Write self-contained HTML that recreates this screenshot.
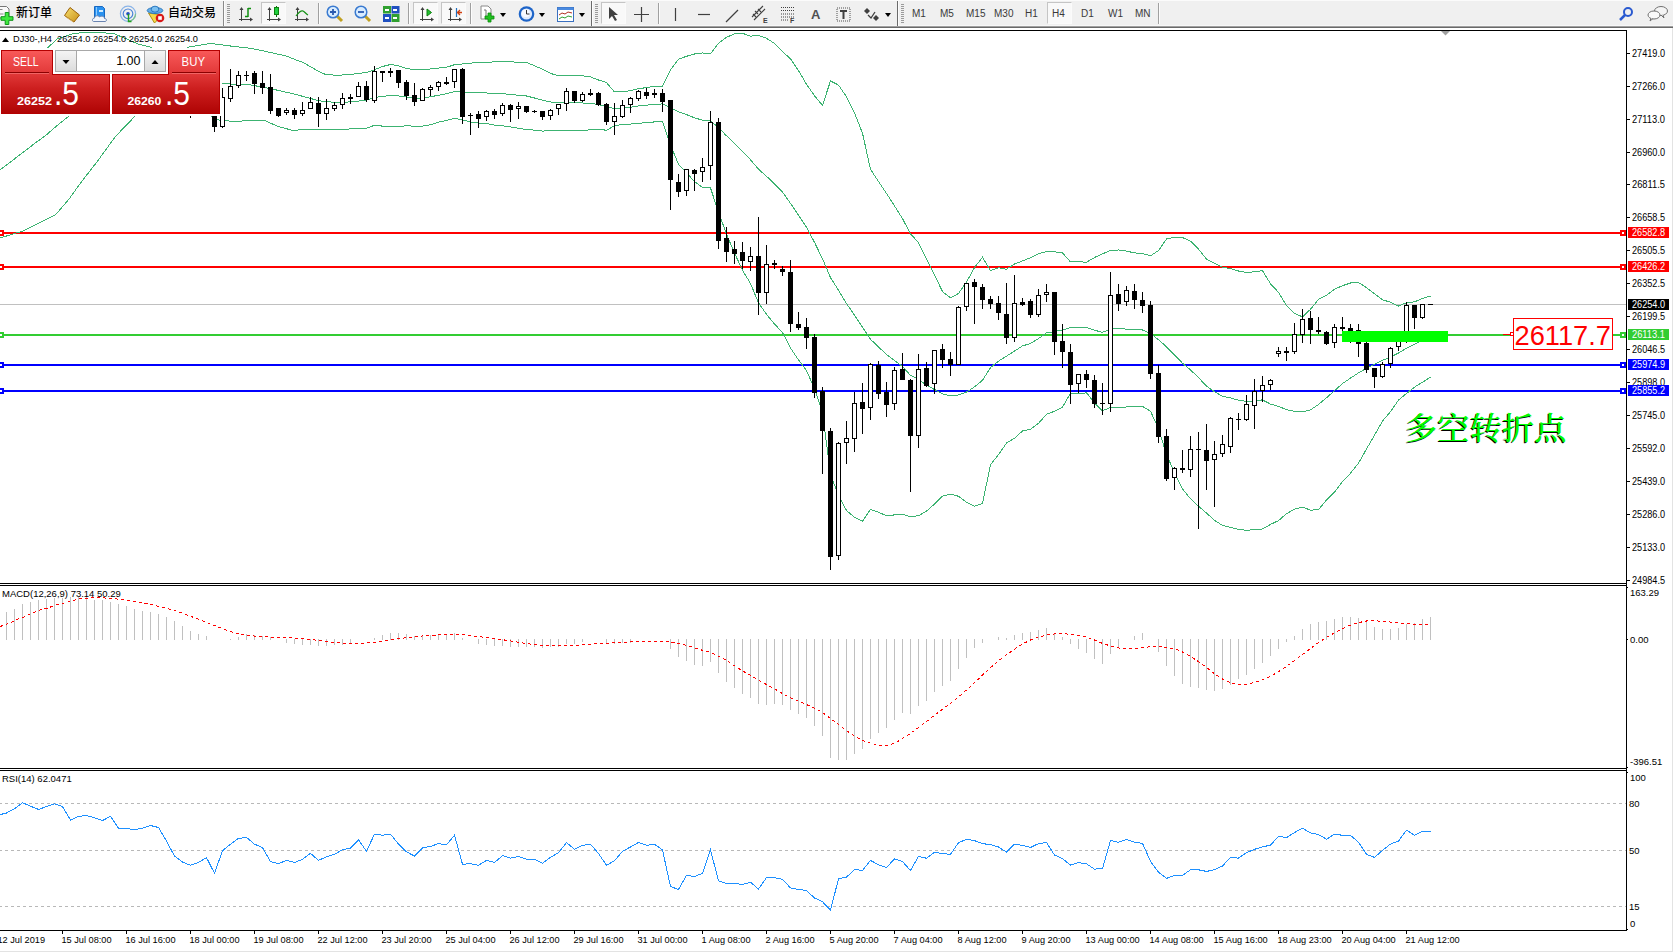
<!DOCTYPE html>
<html><head><meta charset="utf-8"><title>MT4</title>
<style>
*{box-sizing:border-box}
html,body{margin:0;padding:0}
body{width:1673px;height:952px;overflow:hidden;background:#fff;position:relative;font-family:"Liberation Sans","Noto Sans CJK SC",sans-serif}
#ch{position:absolute;left:0;top:0}
#tb{position:absolute;left:0;top:0;width:1673px;height:28px;background:#f0f0f0;border-bottom:0}
#tb .b1{position:absolute;left:0;top:25px;width:1673px;height:1px;background:#f7f7f7}
#tb .b2{position:absolute;left:0;top:26px;width:1673px;height:1px;background:#a0a0a0}
#tb .b3{position:absolute;left:0;top:27px;width:1673px;height:1px;background:#696969}
#tb .sep{position:absolute;top:1px;width:1px;height:25px;background:#a0a0a0;box-shadow:1px 0 0 #fcfcfc}
#tb .b0{position:absolute;left:0;top:0;width:1673px;height:1px;background:#fbfbfb}
#tb .grip{position:absolute;top:4px;width:3px;height:19px;background:repeating-linear-gradient(#9a9a9a 0 1px,transparent 1px 2px)}
#tb .prs{position:absolute;top:2px;width:25px;height:22px;border:1px solid #c5c5c5;border-right-color:#fbfbfb;border-bottom-color:#fbfbfb;background:#f9f9f9}
#tb svg{position:absolute}
#tb .t{position:absolute;font-size:12px;font-weight:500;color:#000;top:5px;line-height:14px;font-family:"Liberation Sans","Noto Sans CJK SC",sans-serif}
#tb .tf{position:absolute;font-size:10px;color:#3a3a3a;top:8px;line-height:12px}
#tb .dd{position:absolute;top:13px;width:0;height:0;border-left:3.5px solid transparent;border-right:3.5px solid transparent;border-top:4px solid #000}
#tp{position:absolute;left:0;top:0}
#tp div{position:absolute}
.rd{background:linear-gradient(#f75656,#e33b3b 35%,#cf2020 60%,#b20404);}

</style></head><body>
<svg id="ch" width="1673" height="952" viewBox="0 0 1673 952">
<defs><clipPath id="cm"><rect x="0" y="31" width="1626" height="552"/></clipPath><clipPath id="cmacd"><rect x="0" y="586" width="1626" height="182"/></clipPath><clipPath id="crsi"><rect x="0" y="771" width="1626" height="159"/></clipPath></defs>
<g shape-rendering="crispEdges" fill="#000">
<rect x="0" y="30" width="1627" height="1"/>
<rect x="0" y="583" width="1627" height="1"/>
<rect x="0" y="585" width="1627" height="1"/>
<rect x="0" y="768" width="1627" height="1"/>
<rect x="0" y="770" width="1627" height="1"/>
<rect x="0" y="930" width="1627" height="1"/>
<rect x="1626" y="30" width="1" height="901"/>
</g>
<g clip-path="url(#cm)">
<g shape-rendering="crispEdges">
<rect x="0" y="304" width="1626" height="1" fill="#c0c0c0"/>
<rect x="0" y="232" width="1627" height="2" fill="#ff0000"/>
<rect x="0" y="266" width="1627" height="2" fill="#ff0000"/>
<rect x="0" y="334" width="1627" height="2" fill="#32cd32"/>
<rect x="0" y="364" width="1627" height="2" fill="#0000ff"/>
<rect x="0" y="390" width="1627" height="2" fill="#0000ff"/>
</g>
<polyline points="30.0,62.0 44.0,51.0 47.8,47.6 57.4,38.8 71.7,34.0 83.7,32.3 100.4,32.3 114.8,34.0 129.1,40.0 138.7,44.3 150.6,47.1 155.0,49.5 160.0,52.0 180.0,52.0 188.9,47.1 210.4,43.5 217.6,44.3 229.5,45.9 251.0,48.3 267.8,51.9 286.9,56.2 296.2,60.0 303.6,62.7 318.0,71.0 324.9,74.2 337.2,75.4 351.5,74.3 366.5,72.5 374.5,69.7 382.5,66.5 390.5,64.5 398.5,65.7 406.5,68.4 414.5,69.8 422.5,70.0 430.5,69.0 438.5,68.1 446.5,67.3 454.5,64.7 462.5,64.0 470.5,63.1 478.5,62.6 486.5,62.4 494.5,61.8 502.5,61.8 510.5,61.7 518.5,62.5 526.5,62.4 534.5,65.8 542.5,69.2 550.5,73.4 558.5,75.8 566.5,75.2 574.5,75.1 582.5,75.8 590.5,76.9 598.5,80.0 606.5,82.6 614.5,92.0 622.5,91.8 630.5,90.6 638.5,88.7 646.5,87.6 654.5,86.3 662.5,86.2 670.5,69.8 678.5,59.1 686.5,56.3 694.5,54.0 702.5,53.0 710.5,53.8 718.5,43.2 726.5,37.3 734.5,33.8 742.5,33.3 750.5,36.1 758.5,35.5 766.5,38.3 774.5,43.5 782.5,51.7 790.5,58.8 798.5,70.6 806.5,84.2 814.5,95.8 822.5,105.3 830.5,80.9 838.5,85.1 846.5,96.8 854.5,113.0 862.5,133.2 870.5,169.3 878.5,181.6 886.5,193.4 894.5,205.9 902.5,218.6 910.5,233.8 918.5,242.6 926.5,259.4 934.5,274.9 942.5,291.6 950.5,297.8 958.5,293.5 966.5,282.1 974.5,267.6 982.5,257.2 990.5,270.5 998.5,267.7 1006.5,269.2 1014.5,264.0 1022.5,260.9 1030.5,257.8 1038.5,253.7 1046.5,251.5 1054.5,251.8 1062.5,252.9 1070.5,262.0 1078.5,261.6 1086.5,262.3 1094.5,257.5 1102.5,253.9 1110.5,250.3 1118.5,250.0 1126.5,251.1 1134.5,252.9 1142.5,253.6 1150.5,255.8 1158.5,250.6 1166.5,239.0 1174.5,237.1 1182.5,237.6 1190.5,241.1 1198.5,249.2 1206.5,259.1 1214.5,263.1 1222.5,267.1 1230.5,268.6 1238.5,271.0 1246.5,272.5 1254.5,271.8 1262.5,270.7 1270.5,283.8 1278.5,292.3 1286.5,305.5 1294.5,313.5 1302.5,316.8 1310.5,309.3 1318.5,299.4 1326.5,295.4 1334.5,289.2 1342.5,285.7 1350.5,283.0 1358.5,282.5 1366.5,287.6 1374.5,293.7 1382.5,299.8 1390.5,302.2 1398.5,306.0 1406.5,302.7 1414.5,301.8 1422.5,298.5 1430.5,296.0" fill="none" stroke="#3cb371" stroke-width="1" shape-rendering="crispEdges" />
<polyline points="0.0,169.8 23.0,152.5 35.0,143.2 46.0,135.2 58.0,124.8 69.0,116.0 100.0,100.0 150.0,88.0 200.0,83.0 222.0,83.6 250.0,84.8 270.0,88.5 294.0,94.0 317.0,100.2 326.0,101.9 345.0,102.3 366.5,100.3 374.5,97.5 382.5,96.3 390.5,95.7 398.5,96.0 406.5,97.1 414.5,98.0 422.5,98.0 430.5,96.8 438.5,95.2 446.5,93.8 454.5,91.5 462.5,91.9 470.5,92.5 478.5,92.8 486.5,93.0 494.5,93.5 502.5,93.8 510.5,94.3 518.5,95.3 526.5,96.0 534.5,98.0 542.5,100.2 550.5,102.0 558.5,103.0 566.5,102.8 574.5,102.8 582.5,103.0 590.5,103.4 598.5,104.5 606.5,106.5 614.5,108.8 622.5,108.2 630.5,107.3 638.5,106.0 646.5,105.2 654.5,104.1 662.5,104.0 670.5,107.5 678.5,111.8 686.5,114.6 694.5,117.8 702.5,120.2 710.5,120.8 718.5,127.7 726.5,135.8 734.5,143.4 742.5,151.8 750.5,159.8 758.5,169.2 766.5,176.3 774.5,183.8 782.5,192.1 790.5,203.4 798.5,215.2 806.5,227.3 814.5,242.3 822.5,258.8 830.5,277.6 838.5,290.2 846.5,303.6 854.5,315.1 862.5,327.2 870.5,339.3 878.5,346.9 886.5,354.6 894.5,360.4 902.5,366.4 910.5,375.4 918.5,379.1 926.5,385.2 934.5,389.5 942.5,393.9 950.5,395.9 958.5,394.9 966.5,392.1 974.5,386.9 982.5,380.3 990.5,367.6 998.5,361.1 1006.5,356.1 1014.5,351.1 1022.5,345.9 1030.5,343.5 1038.5,338.6 1046.5,332.9 1054.5,331.5 1062.5,330.1 1070.5,327.6 1078.5,327.8 1086.5,327.5 1094.5,330.2 1102.5,332.4 1110.5,328.9 1118.5,328.7 1126.5,329.1 1134.5,329.7 1142.5,330.0 1150.5,333.5 1158.5,339.7 1166.5,346.8 1174.5,355.0 1182.5,363.2 1190.5,369.9 1198.5,377.6 1206.5,386.1 1214.5,391.7 1222.5,396.3 1230.5,397.9 1238.5,400.2 1246.5,401.4 1254.5,400.8 1262.5,399.9 1270.5,404.1 1278.5,406.4 1286.5,409.6 1294.5,411.3 1302.5,411.9 1310.5,409.8 1318.5,404.5 1326.5,397.8 1334.5,390.7 1342.5,383.6 1350.5,378.1 1358.5,372.9 1366.5,368.3 1374.5,364.4 1382.5,360.4 1390.5,356.9 1398.5,353.1 1406.5,348.1 1414.5,344.4 1422.5,340.4 1430.5,336.6" fill="none" stroke="#3cb371" stroke-width="1" shape-rendering="crispEdges" />
<polyline points="0.0,238.0 23.0,231.0 55.5,214.9 69.3,198.7 80.9,182.5 97.1,161.7 115.6,136.3 135.2,116.0 160.0,100.0 190.0,100.0 206.0,108.0 211.0,116.0 217.0,119.6 222.2,120.8 241.5,121.4 242.4,120.3 264.0,120.3 278.2,126.5 292.6,130.4 306.0,129.5 335.0,129.2 345.2,129.2 366.5,128.1 374.5,125.3 382.5,126.1 390.5,126.8 398.5,126.4 406.5,125.8 414.5,126.2 422.5,126.1 430.5,124.7 438.5,122.2 446.5,120.4 454.5,118.4 462.5,119.8 470.5,122.0 478.5,123.0 486.5,123.5 494.5,125.1 502.5,125.8 510.5,127.0 518.5,128.2 526.5,129.5 534.5,130.1 542.5,131.1 550.5,130.6 558.5,130.3 566.5,130.4 574.5,130.4 582.5,130.2 590.5,129.9 598.5,129.1 606.5,130.3 614.5,125.6 622.5,124.6 630.5,124.1 638.5,123.2 646.5,122.8 654.5,121.9 662.5,121.7 670.5,145.1 678.5,164.4 686.5,172.9 694.5,181.5 702.5,187.5 710.5,187.9 718.5,212.2 726.5,234.2 734.5,253.0 742.5,270.2 750.5,283.5 758.5,302.9 766.5,314.3 774.5,324.0 782.5,332.5 790.5,348.0 798.5,359.9 806.5,370.5 814.5,388.9 822.5,412.3 830.5,474.4 838.5,495.3 846.5,510.5 854.5,517.2 862.5,521.2 870.5,509.3 878.5,512.3 886.5,515.8 894.5,514.9 902.5,514.1 910.5,516.9 918.5,515.7 926.5,511.1 934.5,504.1 942.5,496.2 950.5,494.1 958.5,496.3 966.5,502.2 974.5,506.1 982.5,503.4 990.5,464.8 998.5,454.6 1006.5,443.1 1014.5,438.3 1022.5,431.0 1030.5,429.2 1038.5,423.4 1046.5,414.3 1054.5,411.2 1062.5,407.3 1070.5,393.1 1078.5,394.0 1086.5,392.7 1094.5,402.9 1102.5,410.8 1110.5,407.4 1118.5,407.4 1126.5,407.0 1134.5,406.5 1142.5,406.4 1150.5,411.2 1158.5,428.8 1166.5,454.5 1174.5,472.9 1182.5,488.9 1190.5,498.8 1198.5,506.1 1206.5,513.1 1214.5,520.3 1222.5,525.5 1230.5,527.3 1238.5,529.4 1246.5,530.3 1254.5,529.7 1262.5,529.0 1270.5,524.4 1278.5,520.6 1286.5,513.7 1294.5,509.1 1302.5,507.1 1310.5,510.2 1318.5,509.6 1326.5,500.1 1334.5,492.2 1342.5,481.6 1350.5,473.2 1358.5,463.2 1366.5,449.0 1374.5,435.2 1382.5,421.1 1390.5,411.7 1398.5,400.1 1406.5,393.5 1414.5,387.1 1422.5,382.3 1430.5,377.2" fill="none" stroke="#3cb371" stroke-width="1" shape-rendering="crispEdges" />
<g shape-rendering="crispEdges">
<rect x="190" y="100" width="1" height="18" fill="#000"/>
<rect x="188" y="100" width="5" height="12" fill="#000"/>
<rect x="214" y="100" width="1" height="32" fill="#000"/>
<rect x="212" y="105" width="5" height="22" fill="#000"/>
<rect x="222" y="88" width="1" height="40" fill="#000"/>
<rect x="220" y="97" width="5" height="30" fill="#000"/>
<rect x="221" y="98" width="3" height="28" fill="#fff"/>
<rect x="230" y="69" width="1" height="33" fill="#000"/>
<rect x="228" y="86" width="5" height="13" fill="#000"/>
<rect x="229" y="87" width="3" height="11" fill="#fff"/>
<rect x="238" y="71" width="1" height="17" fill="#000"/>
<rect x="236" y="75" width="5" height="11" fill="#000"/>
<rect x="237" y="76" width="3" height="9" fill="#fff"/>
<rect x="246" y="71" width="1" height="10" fill="#000"/>
<rect x="244" y="75" width="5" height="1" fill="#000"/>
<rect x="254" y="71" width="1" height="23" fill="#000"/>
<rect x="252" y="73" width="5" height="11" fill="#000"/>
<rect x="262" y="71" width="1" height="23" fill="#000"/>
<rect x="260" y="83" width="5" height="5" fill="#000"/>
<rect x="270" y="74" width="1" height="40" fill="#000"/>
<rect x="268" y="87" width="5" height="24" fill="#000"/>
<rect x="278" y="108" width="1" height="9" fill="#000"/>
<rect x="276" y="108" width="5" height="8" fill="#000"/>
<rect x="286" y="108" width="1" height="7" fill="#000"/>
<rect x="284" y="110" width="5" height="3" fill="#000"/>
<rect x="285" y="111" width="3" height="1" fill="#fff"/>
<rect x="294" y="108" width="1" height="11" fill="#000"/>
<rect x="292" y="110" width="5" height="5" fill="#000"/>
<rect x="302" y="102" width="1" height="14" fill="#000"/>
<rect x="300" y="110" width="5" height="4" fill="#000"/>
<rect x="301" y="111" width="3" height="2" fill="#fff"/>
<rect x="310" y="97" width="1" height="12" fill="#000"/>
<rect x="308" y="102" width="5" height="7" fill="#000"/>
<rect x="309" y="103" width="3" height="5" fill="#fff"/>
<rect x="318" y="97" width="1" height="30" fill="#000"/>
<rect x="316" y="103" width="5" height="11" fill="#000"/>
<rect x="326" y="99" width="1" height="21" fill="#000"/>
<rect x="324" y="108" width="5" height="6" fill="#000"/>
<rect x="325" y="109" width="3" height="4" fill="#fff"/>
<rect x="334" y="102" width="1" height="9" fill="#000"/>
<rect x="332" y="105" width="5" height="4" fill="#000"/>
<rect x="333" y="106" width="3" height="2" fill="#fff"/>
<rect x="342" y="93" width="1" height="16" fill="#000"/>
<rect x="340" y="98" width="5" height="7" fill="#000"/>
<rect x="341" y="99" width="3" height="5" fill="#fff"/>
<rect x="350" y="94" width="1" height="10" fill="#000"/>
<rect x="348" y="97" width="5" height="2" fill="#000"/>
<rect x="358" y="82" width="1" height="15" fill="#000"/>
<rect x="356" y="86" width="5" height="11" fill="#000"/>
<rect x="357" y="87" width="3" height="9" fill="#fff"/>
<rect x="366" y="81" width="1" height="21" fill="#000"/>
<rect x="364" y="86" width="5" height="14" fill="#000"/>
<rect x="374" y="66" width="1" height="37" fill="#000"/>
<rect x="372" y="71" width="5" height="30" fill="#000"/>
<rect x="373" y="72" width="3" height="28" fill="#fff"/>
<rect x="382" y="71" width="1" height="11" fill="#000"/>
<rect x="380" y="71" width="5" height="2" fill="#000"/>
<rect x="390" y="68" width="1" height="9" fill="#000"/>
<rect x="388" y="71" width="5" height="2" fill="#000"/>
<rect x="398" y="70" width="1" height="18" fill="#000"/>
<rect x="396" y="70" width="5" height="13" fill="#000"/>
<rect x="406" y="80" width="1" height="20" fill="#000"/>
<rect x="404" y="82" width="5" height="14" fill="#000"/>
<rect x="414" y="83" width="1" height="23" fill="#000"/>
<rect x="412" y="95" width="5" height="7" fill="#000"/>
<rect x="422" y="88" width="1" height="13" fill="#000"/>
<rect x="420" y="89" width="5" height="12" fill="#000"/>
<rect x="421" y="90" width="3" height="10" fill="#fff"/>
<rect x="430" y="85" width="1" height="11" fill="#000"/>
<rect x="428" y="87" width="5" height="3" fill="#000"/>
<rect x="429" y="88" width="3" height="1" fill="#fff"/>
<rect x="438" y="81" width="1" height="10" fill="#000"/>
<rect x="436" y="82" width="5" height="5" fill="#000"/>
<rect x="437" y="83" width="3" height="3" fill="#fff"/>
<rect x="446" y="77" width="1" height="8" fill="#000"/>
<rect x="444" y="82" width="5" height="2" fill="#000"/>
<rect x="454" y="69" width="1" height="19" fill="#000"/>
<rect x="452" y="69" width="5" height="13" fill="#000"/>
<rect x="453" y="70" width="3" height="11" fill="#fff"/>
<rect x="462" y="68" width="1" height="56" fill="#000"/>
<rect x="460" y="69" width="5" height="48" fill="#000"/>
<rect x="470" y="113" width="1" height="22" fill="#000"/>
<rect x="468" y="115" width="5" height="1" fill="#000"/>
<rect x="478" y="111" width="1" height="17" fill="#000"/>
<rect x="476" y="114" width="5" height="5" fill="#000"/>
<rect x="486" y="110" width="1" height="11" fill="#000"/>
<rect x="484" y="111" width="5" height="6" fill="#000"/>
<rect x="485" y="112" width="3" height="4" fill="#fff"/>
<rect x="494" y="109" width="1" height="10" fill="#000"/>
<rect x="492" y="111" width="5" height="4" fill="#000"/>
<rect x="502" y="103" width="1" height="13" fill="#000"/>
<rect x="500" y="105" width="5" height="9" fill="#000"/>
<rect x="501" y="106" width="3" height="7" fill="#fff"/>
<rect x="510" y="104" width="1" height="18" fill="#000"/>
<rect x="508" y="105" width="5" height="5" fill="#000"/>
<rect x="518" y="102" width="1" height="17" fill="#000"/>
<rect x="516" y="106" width="5" height="3" fill="#000"/>
<rect x="517" y="107" width="3" height="1" fill="#fff"/>
<rect x="526" y="106" width="1" height="7" fill="#000"/>
<rect x="524" y="106" width="5" height="6" fill="#000"/>
<rect x="534" y="110" width="1" height="3" fill="#000"/>
<rect x="532" y="111" width="5" height="1" fill="#000"/>
<rect x="542" y="111" width="1" height="9" fill="#000"/>
<rect x="540" y="111" width="5" height="6" fill="#000"/>
<rect x="550" y="109" width="1" height="11" fill="#000"/>
<rect x="548" y="110" width="5" height="6" fill="#000"/>
<rect x="549" y="111" width="3" height="4" fill="#fff"/>
<rect x="558" y="104" width="1" height="11" fill="#000"/>
<rect x="556" y="104" width="5" height="5" fill="#000"/>
<rect x="557" y="105" width="3" height="3" fill="#fff"/>
<rect x="566" y="88" width="1" height="23" fill="#000"/>
<rect x="564" y="91" width="5" height="13" fill="#000"/>
<rect x="565" y="92" width="3" height="11" fill="#fff"/>
<rect x="574" y="91" width="1" height="12" fill="#000"/>
<rect x="572" y="91" width="5" height="10" fill="#000"/>
<rect x="582" y="92" width="1" height="10" fill="#000"/>
<rect x="580" y="94" width="5" height="7" fill="#000"/>
<rect x="581" y="95" width="3" height="5" fill="#fff"/>
<rect x="590" y="89" width="1" height="7" fill="#000"/>
<rect x="588" y="93" width="5" height="2" fill="#000"/>
<rect x="598" y="92" width="1" height="14" fill="#000"/>
<rect x="596" y="93" width="5" height="12" fill="#000"/>
<rect x="606" y="103" width="1" height="22" fill="#000"/>
<rect x="604" y="104" width="5" height="18" fill="#000"/>
<rect x="614" y="103" width="1" height="32" fill="#000"/>
<rect x="612" y="116" width="5" height="6" fill="#000"/>
<rect x="613" y="117" width="3" height="4" fill="#fff"/>
<rect x="622" y="100" width="1" height="18" fill="#000"/>
<rect x="620" y="105" width="5" height="12" fill="#000"/>
<rect x="621" y="106" width="3" height="10" fill="#fff"/>
<rect x="630" y="97" width="1" height="16" fill="#000"/>
<rect x="628" y="98" width="5" height="7" fill="#000"/>
<rect x="629" y="99" width="3" height="5" fill="#fff"/>
<rect x="638" y="90" width="1" height="11" fill="#000"/>
<rect x="636" y="91" width="5" height="8" fill="#000"/>
<rect x="637" y="92" width="3" height="6" fill="#fff"/>
<rect x="646" y="88" width="1" height="11" fill="#000"/>
<rect x="644" y="92" width="5" height="4" fill="#000"/>
<rect x="654" y="89" width="1" height="9" fill="#000"/>
<rect x="652" y="93" width="5" height="2" fill="#000"/>
<rect x="662" y="89" width="1" height="23" fill="#000"/>
<rect x="660" y="93" width="5" height="9" fill="#000"/>
<rect x="670" y="100" width="1" height="110" fill="#000"/>
<rect x="668" y="100" width="5" height="80" fill="#000"/>
<rect x="678" y="174" width="1" height="23" fill="#000"/>
<rect x="676" y="182" width="5" height="10" fill="#000"/>
<rect x="686" y="169" width="1" height="27" fill="#000"/>
<rect x="684" y="169" width="5" height="22" fill="#000"/>
<rect x="685" y="170" width="3" height="20" fill="#fff"/>
<rect x="694" y="169" width="1" height="22" fill="#000"/>
<rect x="692" y="170" width="5" height="4" fill="#000"/>
<rect x="702" y="158" width="1" height="24" fill="#000"/>
<rect x="700" y="167" width="5" height="5" fill="#000"/>
<rect x="701" y="168" width="3" height="3" fill="#fff"/>
<rect x="710" y="111" width="1" height="69" fill="#000"/>
<rect x="708" y="122" width="5" height="44" fill="#000"/>
<rect x="709" y="123" width="3" height="42" fill="#fff"/>
<rect x="718" y="118" width="1" height="131" fill="#000"/>
<rect x="716" y="122" width="5" height="119" fill="#000"/>
<rect x="726" y="227" width="1" height="35" fill="#000"/>
<rect x="724" y="238" width="5" height="14" fill="#000"/>
<rect x="734" y="241" width="1" height="23" fill="#000"/>
<rect x="732" y="249" width="5" height="5" fill="#000"/>
<rect x="742" y="242" width="1" height="27" fill="#000"/>
<rect x="740" y="252" width="5" height="9" fill="#000"/>
<rect x="750" y="247" width="1" height="24" fill="#000"/>
<rect x="748" y="256" width="5" height="6" fill="#000"/>
<rect x="749" y="257" width="3" height="4" fill="#fff"/>
<rect x="758" y="217" width="1" height="98" fill="#000"/>
<rect x="756" y="256" width="5" height="37" fill="#000"/>
<rect x="766" y="245" width="1" height="59" fill="#000"/>
<rect x="764" y="264" width="5" height="29" fill="#000"/>
<rect x="765" y="265" width="3" height="27" fill="#fff"/>
<rect x="774" y="260" width="1" height="9" fill="#000"/>
<rect x="772" y="263" width="5" height="2" fill="#000"/>
<rect x="782" y="266" width="1" height="10" fill="#000"/>
<rect x="780" y="269" width="5" height="3" fill="#000"/>
<rect x="790" y="260" width="1" height="72" fill="#000"/>
<rect x="788" y="272" width="5" height="52" fill="#000"/>
<rect x="798" y="312" width="1" height="18" fill="#000"/>
<rect x="796" y="324" width="5" height="4" fill="#000"/>
<rect x="806" y="318" width="1" height="31" fill="#000"/>
<rect x="804" y="327" width="5" height="11" fill="#000"/>
<rect x="814" y="334" width="1" height="64" fill="#000"/>
<rect x="812" y="337" width="5" height="56" fill="#000"/>
<rect x="822" y="387" width="1" height="87" fill="#000"/>
<rect x="820" y="391" width="5" height="40" fill="#000"/>
<rect x="830" y="428" width="1" height="142" fill="#000"/>
<rect x="828" y="431" width="5" height="126" fill="#000"/>
<rect x="838" y="442" width="1" height="118" fill="#000"/>
<rect x="836" y="443" width="5" height="113" fill="#000"/>
<rect x="837" y="444" width="3" height="111" fill="#fff"/>
<rect x="846" y="421" width="1" height="43" fill="#000"/>
<rect x="844" y="438" width="5" height="5" fill="#000"/>
<rect x="845" y="439" width="3" height="3" fill="#fff"/>
<rect x="854" y="392" width="1" height="60" fill="#000"/>
<rect x="852" y="403" width="5" height="36" fill="#000"/>
<rect x="853" y="404" width="3" height="34" fill="#fff"/>
<rect x="862" y="383" width="1" height="51" fill="#000"/>
<rect x="860" y="402" width="5" height="7" fill="#000"/>
<rect x="870" y="363" width="1" height="57" fill="#000"/>
<rect x="868" y="364" width="5" height="44" fill="#000"/>
<rect x="869" y="365" width="3" height="42" fill="#fff"/>
<rect x="878" y="361" width="1" height="38" fill="#000"/>
<rect x="876" y="365" width="5" height="29" fill="#000"/>
<rect x="886" y="382" width="1" height="35" fill="#000"/>
<rect x="884" y="392" width="5" height="13" fill="#000"/>
<rect x="894" y="367" width="1" height="43" fill="#000"/>
<rect x="892" y="370" width="5" height="34" fill="#000"/>
<rect x="893" y="371" width="3" height="32" fill="#fff"/>
<rect x="902" y="353" width="1" height="27" fill="#000"/>
<rect x="900" y="369" width="5" height="11" fill="#000"/>
<rect x="910" y="379" width="1" height="113" fill="#000"/>
<rect x="908" y="380" width="5" height="56" fill="#000"/>
<rect x="918" y="354" width="1" height="94" fill="#000"/>
<rect x="916" y="369" width="5" height="67" fill="#000"/>
<rect x="917" y="370" width="3" height="65" fill="#fff"/>
<rect x="926" y="362" width="1" height="25" fill="#000"/>
<rect x="924" y="368" width="5" height="18" fill="#000"/>
<rect x="934" y="350" width="1" height="44" fill="#000"/>
<rect x="932" y="350" width="5" height="34" fill="#000"/>
<rect x="933" y="351" width="3" height="32" fill="#fff"/>
<rect x="942" y="344" width="1" height="24" fill="#000"/>
<rect x="940" y="349" width="5" height="11" fill="#000"/>
<rect x="950" y="352" width="1" height="24" fill="#000"/>
<rect x="948" y="359" width="5" height="6" fill="#000"/>
<rect x="958" y="306" width="1" height="59" fill="#000"/>
<rect x="956" y="307" width="5" height="58" fill="#000"/>
<rect x="957" y="308" width="3" height="56" fill="#fff"/>
<rect x="966" y="283" width="1" height="28" fill="#000"/>
<rect x="964" y="283" width="5" height="24" fill="#000"/>
<rect x="965" y="284" width="3" height="22" fill="#fff"/>
<rect x="974" y="279" width="1" height="45" fill="#000"/>
<rect x="972" y="282" width="5" height="5" fill="#000"/>
<rect x="982" y="284" width="1" height="25" fill="#000"/>
<rect x="980" y="287" width="5" height="13" fill="#000"/>
<rect x="990" y="296" width="1" height="13" fill="#000"/>
<rect x="988" y="299" width="5" height="5" fill="#000"/>
<rect x="998" y="296" width="1" height="24" fill="#000"/>
<rect x="996" y="303" width="5" height="10" fill="#000"/>
<rect x="1006" y="283" width="1" height="61" fill="#000"/>
<rect x="1004" y="314" width="5" height="24" fill="#000"/>
<rect x="1014" y="275" width="1" height="67" fill="#000"/>
<rect x="1012" y="303" width="5" height="35" fill="#000"/>
<rect x="1013" y="304" width="3" height="33" fill="#fff"/>
<rect x="1022" y="298" width="1" height="8" fill="#000"/>
<rect x="1020" y="302" width="5" height="3" fill="#000"/>
<rect x="1030" y="299" width="1" height="19" fill="#000"/>
<rect x="1028" y="301" width="5" height="14" fill="#000"/>
<rect x="1038" y="289" width="1" height="28" fill="#000"/>
<rect x="1036" y="295" width="5" height="20" fill="#000"/>
<rect x="1037" y="296" width="3" height="18" fill="#fff"/>
<rect x="1046" y="284" width="1" height="18" fill="#000"/>
<rect x="1044" y="292" width="5" height="3" fill="#000"/>
<rect x="1045" y="293" width="3" height="1" fill="#fff"/>
<rect x="1054" y="292" width="1" height="63" fill="#000"/>
<rect x="1052" y="292" width="5" height="50" fill="#000"/>
<rect x="1062" y="324" width="1" height="44" fill="#000"/>
<rect x="1060" y="341" width="5" height="11" fill="#000"/>
<rect x="1070" y="344" width="1" height="60" fill="#000"/>
<rect x="1068" y="352" width="5" height="33" fill="#000"/>
<rect x="1078" y="374" width="1" height="19" fill="#000"/>
<rect x="1076" y="374" width="5" height="10" fill="#000"/>
<rect x="1077" y="375" width="3" height="8" fill="#fff"/>
<rect x="1086" y="370" width="1" height="18" fill="#000"/>
<rect x="1084" y="374" width="5" height="6" fill="#000"/>
<rect x="1094" y="375" width="1" height="33" fill="#000"/>
<rect x="1092" y="380" width="5" height="24" fill="#000"/>
<rect x="1102" y="383" width="1" height="32" fill="#000"/>
<rect x="1100" y="403" width="5" height="1" fill="#000"/>
<rect x="1110" y="272" width="1" height="140" fill="#000"/>
<rect x="1108" y="295" width="5" height="109" fill="#000"/>
<rect x="1109" y="296" width="3" height="107" fill="#fff"/>
<rect x="1118" y="284" width="1" height="27" fill="#000"/>
<rect x="1116" y="294" width="5" height="10" fill="#000"/>
<rect x="1126" y="286" width="1" height="20" fill="#000"/>
<rect x="1124" y="290" width="5" height="12" fill="#000"/>
<rect x="1125" y="291" width="3" height="10" fill="#fff"/>
<rect x="1134" y="284" width="1" height="25" fill="#000"/>
<rect x="1132" y="291" width="5" height="9" fill="#000"/>
<rect x="1142" y="292" width="1" height="21" fill="#000"/>
<rect x="1140" y="300" width="5" height="6" fill="#000"/>
<rect x="1150" y="301" width="1" height="78" fill="#000"/>
<rect x="1148" y="305" width="5" height="69" fill="#000"/>
<rect x="1158" y="365" width="1" height="78" fill="#000"/>
<rect x="1156" y="373" width="5" height="64" fill="#000"/>
<rect x="1166" y="429" width="1" height="52" fill="#000"/>
<rect x="1164" y="436" width="5" height="43" fill="#000"/>
<rect x="1174" y="467" width="1" height="23" fill="#000"/>
<rect x="1172" y="468" width="5" height="10" fill="#000"/>
<rect x="1173" y="469" width="3" height="8" fill="#fff"/>
<rect x="1182" y="450" width="1" height="23" fill="#000"/>
<rect x="1180" y="468" width="5" height="2" fill="#000"/>
<rect x="1190" y="436" width="1" height="41" fill="#000"/>
<rect x="1188" y="449" width="5" height="21" fill="#000"/>
<rect x="1189" y="450" width="3" height="19" fill="#fff"/>
<rect x="1198" y="432" width="1" height="97" fill="#000"/>
<rect x="1196" y="449" width="5" height="1" fill="#000"/>
<rect x="1206" y="424" width="1" height="66" fill="#000"/>
<rect x="1204" y="450" width="5" height="11" fill="#000"/>
<rect x="1214" y="441" width="1" height="66" fill="#000"/>
<rect x="1212" y="454" width="5" height="6" fill="#000"/>
<rect x="1213" y="455" width="3" height="4" fill="#fff"/>
<rect x="1222" y="435" width="1" height="22" fill="#000"/>
<rect x="1220" y="444" width="5" height="10" fill="#000"/>
<rect x="1221" y="445" width="3" height="8" fill="#fff"/>
<rect x="1230" y="417" width="1" height="36" fill="#000"/>
<rect x="1228" y="418" width="5" height="29" fill="#000"/>
<rect x="1229" y="419" width="3" height="27" fill="#fff"/>
<rect x="1238" y="413" width="1" height="17" fill="#000"/>
<rect x="1236" y="419" width="5" height="1" fill="#000"/>
<rect x="1246" y="395" width="1" height="26" fill="#000"/>
<rect x="1244" y="404" width="5" height="16" fill="#000"/>
<rect x="1245" y="405" width="3" height="14" fill="#fff"/>
<rect x="1254" y="379" width="1" height="50" fill="#000"/>
<rect x="1252" y="391" width="5" height="15" fill="#000"/>
<rect x="1253" y="392" width="3" height="13" fill="#fff"/>
<rect x="1262" y="376" width="1" height="26" fill="#000"/>
<rect x="1260" y="385" width="5" height="6" fill="#000"/>
<rect x="1261" y="386" width="3" height="4" fill="#fff"/>
<rect x="1270" y="379" width="1" height="11" fill="#000"/>
<rect x="1268" y="380" width="5" height="5" fill="#000"/>
<rect x="1269" y="381" width="3" height="3" fill="#fff"/>
<rect x="1278" y="347" width="1" height="10" fill="#000"/>
<rect x="1276" y="351" width="5" height="3" fill="#000"/>
<rect x="1277" y="352" width="3" height="1" fill="#fff"/>
<rect x="1286" y="347" width="1" height="14" fill="#000"/>
<rect x="1284" y="351" width="5" height="2" fill="#000"/>
<rect x="1294" y="323" width="1" height="31" fill="#000"/>
<rect x="1292" y="334" width="5" height="18" fill="#000"/>
<rect x="1293" y="335" width="3" height="16" fill="#fff"/>
<rect x="1302" y="309" width="1" height="34" fill="#000"/>
<rect x="1300" y="319" width="5" height="16" fill="#000"/>
<rect x="1301" y="320" width="3" height="14" fill="#fff"/>
<rect x="1310" y="311" width="1" height="33" fill="#000"/>
<rect x="1308" y="318" width="5" height="12" fill="#000"/>
<rect x="1318" y="317" width="1" height="17" fill="#000"/>
<rect x="1316" y="330" width="5" height="2" fill="#000"/>
<rect x="1326" y="331" width="1" height="14" fill="#000"/>
<rect x="1324" y="332" width="5" height="12" fill="#000"/>
<rect x="1334" y="324" width="1" height="24" fill="#000"/>
<rect x="1332" y="327" width="5" height="16" fill="#000"/>
<rect x="1333" y="328" width="3" height="14" fill="#fff"/>
<rect x="1342" y="317" width="1" height="18" fill="#000"/>
<rect x="1340" y="327" width="5" height="2" fill="#000"/>
<rect x="1350" y="324" width="1" height="19" fill="#000"/>
<rect x="1348" y="328" width="5" height="10" fill="#000"/>
<rect x="1358" y="324" width="1" height="33" fill="#000"/>
<rect x="1356" y="330" width="5" height="14" fill="#000"/>
<rect x="1366" y="342" width="1" height="31" fill="#000"/>
<rect x="1364" y="343" width="5" height="27" fill="#000"/>
<rect x="1374" y="368" width="1" height="20" fill="#000"/>
<rect x="1372" y="368" width="5" height="9" fill="#000"/>
<rect x="1382" y="362" width="1" height="16" fill="#000"/>
<rect x="1380" y="364" width="5" height="13" fill="#000"/>
<rect x="1381" y="365" width="3" height="11" fill="#fff"/>
<rect x="1390" y="347" width="1" height="21" fill="#000"/>
<rect x="1388" y="348" width="5" height="16" fill="#000"/>
<rect x="1389" y="349" width="3" height="14" fill="#fff"/>
<rect x="1398" y="340" width="1" height="11" fill="#000"/>
<rect x="1396" y="341" width="5" height="6" fill="#000"/>
<rect x="1397" y="342" width="3" height="4" fill="#fff"/>
<rect x="1406" y="302" width="1" height="41" fill="#000"/>
<rect x="1404" y="305" width="5" height="36" fill="#000"/>
<rect x="1405" y="306" width="3" height="34" fill="#fff"/>
<rect x="1414" y="305" width="1" height="24" fill="#000"/>
<rect x="1412" y="305" width="5" height="13" fill="#000"/>
<rect x="1422" y="304" width="1" height="15" fill="#000"/>
<rect x="1420" y="304" width="5" height="14" fill="#000"/>
<rect x="1421" y="305" width="3" height="12" fill="#fff"/>
<rect x="1428" y="304" width="5" height="1" fill="#000"/>
</g>
<rect x="1342" y="331" width="106" height="11" fill="#00ff00" shape-rendering="crispEdges"/>
<g shape-rendering="crispEdges">
<rect x="-2" y="230" width="6" height="6" fill="#ff0000"/><rect x="0" y="232" width="2" height="2" fill="#fff"/>
<rect x="1620" y="230" width="6" height="6" fill="#ff0000"/><rect x="1622" y="232" width="2" height="2" fill="#fff"/>
<rect x="-2" y="264" width="6" height="6" fill="#ff0000"/><rect x="0" y="266" width="2" height="2" fill="#fff"/>
<rect x="1620" y="264" width="6" height="6" fill="#ff0000"/><rect x="1622" y="266" width="2" height="2" fill="#fff"/>
<rect x="-2" y="332" width="6" height="6" fill="#32cd32"/><rect x="0" y="334" width="2" height="2" fill="#fff"/>
<rect x="1620" y="332" width="6" height="6" fill="#32cd32"/><rect x="1622" y="334" width="2" height="2" fill="#fff"/>
<rect x="-2" y="362" width="6" height="6" fill="#0000ff"/><rect x="0" y="364" width="2" height="2" fill="#fff"/>
<rect x="1620" y="362" width="6" height="6" fill="#0000ff"/><rect x="1622" y="364" width="2" height="2" fill="#fff"/>
<rect x="-2" y="388" width="6" height="6" fill="#0000ff"/><rect x="0" y="390" width="2" height="2" fill="#fff"/>
<rect x="1620" y="388" width="6" height="6" fill="#0000ff"/><rect x="1622" y="390" width="2" height="2" fill="#fff"/>
</g>
<rect x="1513.5" y="318.5" width="99" height="31" fill="#fff" stroke="#ff0000" stroke-width="1"/>
<rect x="1503" y="334" width="8" height="1" fill="#ff0000" shape-rendering="crispEdges"/>
<rect x="1510.5" y="332.5" width="3" height="3" fill="#fff" stroke="#ff0000" stroke-width="1"/>
<text x="1514.5" y="344.6" font-family="Liberation Sans, sans-serif" font-size="28" fill="#ff0000" textLength="96.5" lengthAdjust="spacingAndGlyphs">26117.7</text>
</g>
<polygon points="1441,31 1450,31 1445.5,35.5" fill="#a0a0a0"/>
<g clip-path="url(#cmacd)" shape-rendering="crispEdges" fill="#c0c0c0">
<rect x="6" y="612" width="1" height="28"/>
<rect x="14" y="609" width="1" height="31"/>
<rect x="22" y="604" width="1" height="36"/>
<rect x="30" y="602" width="1" height="38"/>
<rect x="38" y="600" width="1" height="40"/>
<rect x="46" y="599" width="1" height="41"/>
<rect x="54" y="598" width="1" height="42"/>
<rect x="62" y="598" width="1" height="42"/>
<rect x="70" y="597" width="1" height="43"/>
<rect x="78" y="597" width="1" height="43"/>
<rect x="86" y="597" width="1" height="43"/>
<rect x="94" y="600" width="1" height="40"/>
<rect x="102" y="600" width="1" height="40"/>
<rect x="110" y="602" width="1" height="38"/>
<rect x="118" y="604" width="1" height="36"/>
<rect x="126" y="606" width="1" height="34"/>
<rect x="134" y="609" width="1" height="31"/>
<rect x="142" y="611" width="1" height="29"/>
<rect x="150" y="612" width="1" height="28"/>
<rect x="158" y="614" width="1" height="26"/>
<rect x="166" y="617" width="1" height="23"/>
<rect x="174" y="621" width="1" height="19"/>
<rect x="182" y="626" width="1" height="14"/>
<rect x="190" y="631" width="1" height="9"/>
<rect x="198" y="634" width="1" height="6"/>
<rect x="206" y="636" width="1" height="4"/>
<rect x="230" y="639" width="1" height="1"/>
<rect x="238" y="637" width="1" height="3"/>
<rect x="246" y="634" width="1" height="6"/>
<rect x="254" y="635" width="1" height="5"/>
<rect x="262" y="636" width="1" height="4"/>
<rect x="270" y="637" width="1" height="3"/>
<rect x="286" y="639" width="1" height="4"/>
<rect x="294" y="639" width="1" height="5"/>
<rect x="302" y="639" width="1" height="6"/>
<rect x="310" y="639" width="1" height="6"/>
<rect x="318" y="639" width="1" height="7"/>
<rect x="326" y="639" width="1" height="7"/>
<rect x="334" y="639" width="1" height="6"/>
<rect x="342" y="639" width="1" height="6"/>
<rect x="350" y="639" width="1" height="4"/>
<rect x="374" y="638" width="1" height="2"/>
<rect x="382" y="635" width="1" height="5"/>
<rect x="390" y="633" width="1" height="7"/>
<rect x="398" y="633" width="1" height="7"/>
<rect x="406" y="634" width="1" height="6"/>
<rect x="414" y="636" width="1" height="4"/>
<rect x="422" y="636" width="1" height="4"/>
<rect x="430" y="635" width="1" height="5"/>
<rect x="438" y="635" width="1" height="5"/>
<rect x="446" y="634" width="1" height="6"/>
<rect x="454" y="633" width="1" height="7"/>
<rect x="462" y="638" width="1" height="2"/>
<rect x="478" y="639" width="1" height="5"/>
<rect x="486" y="639" width="1" height="6"/>
<rect x="494" y="639" width="1" height="7"/>
<rect x="502" y="639" width="1" height="7"/>
<rect x="510" y="639" width="1" height="8"/>
<rect x="518" y="639" width="1" height="8"/>
<rect x="526" y="639" width="1" height="8"/>
<rect x="534" y="639" width="1" height="8"/>
<rect x="542" y="639" width="1" height="9"/>
<rect x="550" y="639" width="1" height="8"/>
<rect x="558" y="639" width="1" height="8"/>
<rect x="566" y="639" width="1" height="5"/>
<rect x="574" y="639" width="1" height="5"/>
<rect x="582" y="639" width="1" height="3"/>
<rect x="606" y="639" width="1" height="4"/>
<rect x="614" y="639" width="1" height="5"/>
<rect x="622" y="639" width="1" height="4"/>
<rect x="630" y="639" width="1" height="4"/>
<rect x="670" y="639" width="1" height="10"/>
<rect x="678" y="639" width="1" height="18"/>
<rect x="686" y="639" width="1" height="22"/>
<rect x="694" y="639" width="1" height="26"/>
<rect x="702" y="639" width="1" height="27"/>
<rect x="710" y="639" width="1" height="23"/>
<rect x="718" y="639" width="1" height="34"/>
<rect x="726" y="639" width="1" height="43"/>
<rect x="734" y="639" width="1" height="49"/>
<rect x="742" y="639" width="1" height="55"/>
<rect x="750" y="639" width="1" height="59"/>
<rect x="758" y="639" width="1" height="65"/>
<rect x="766" y="639" width="1" height="66"/>
<rect x="774" y="639" width="1" height="65"/>
<rect x="782" y="639" width="1" height="66"/>
<rect x="790" y="639" width="1" height="71"/>
<rect x="798" y="639" width="1" height="75"/>
<rect x="806" y="639" width="1" height="79"/>
<rect x="814" y="639" width="1" height="87"/>
<rect x="822" y="639" width="1" height="97"/>
<rect x="830" y="639" width="1" height="119"/>
<rect x="838" y="639" width="1" height="121"/>
<rect x="846" y="639" width="1" height="121"/>
<rect x="854" y="639" width="1" height="115"/>
<rect x="862" y="639" width="1" height="110"/>
<rect x="870" y="639" width="1" height="100"/>
<rect x="878" y="639" width="1" height="94"/>
<rect x="886" y="639" width="1" height="89"/>
<rect x="894" y="639" width="1" height="81"/>
<rect x="902" y="639" width="1" height="74"/>
<rect x="910" y="639" width="1" height="75"/>
<rect x="918" y="639" width="1" height="67"/>
<rect x="926" y="639" width="1" height="62"/>
<rect x="934" y="639" width="1" height="53"/>
<rect x="942" y="639" width="1" height="47"/>
<rect x="950" y="639" width="1" height="42"/>
<rect x="958" y="639" width="1" height="30"/>
<rect x="966" y="639" width="1" height="19"/>
<rect x="974" y="639" width="1" height="9"/>
<rect x="982" y="639" width="1" height="4"/>
<rect x="998" y="637" width="1" height="3"/>
<rect x="1006" y="638" width="1" height="2"/>
<rect x="1014" y="635" width="1" height="5"/>
<rect x="1022" y="633" width="1" height="7"/>
<rect x="1030" y="632" width="1" height="8"/>
<rect x="1038" y="630" width="1" height="10"/>
<rect x="1046" y="628" width="1" height="12"/>
<rect x="1054" y="633" width="1" height="7"/>
<rect x="1062" y="637" width="1" height="3"/>
<rect x="1070" y="639" width="1" height="5"/>
<rect x="1078" y="639" width="1" height="10"/>
<rect x="1086" y="639" width="1" height="14"/>
<rect x="1094" y="639" width="1" height="20"/>
<rect x="1102" y="639" width="1" height="25"/>
<rect x="1110" y="639" width="1" height="15"/>
<rect x="1118" y="639" width="1" height="8"/>
<rect x="1134" y="636" width="1" height="4"/>
<rect x="1142" y="633" width="1" height="7"/>
<rect x="1158" y="639" width="1" height="13"/>
<rect x="1166" y="639" width="1" height="27"/>
<rect x="1174" y="639" width="1" height="37"/>
<rect x="1182" y="639" width="1" height="45"/>
<rect x="1190" y="639" width="1" height="48"/>
<rect x="1198" y="639" width="1" height="49"/>
<rect x="1206" y="639" width="1" height="51"/>
<rect x="1214" y="639" width="1" height="52"/>
<rect x="1222" y="639" width="1" height="50"/>
<rect x="1230" y="639" width="1" height="46"/>
<rect x="1238" y="639" width="1" height="40"/>
<rect x="1246" y="639" width="1" height="36"/>
<rect x="1254" y="639" width="1" height="30"/>
<rect x="1262" y="639" width="1" height="24"/>
<rect x="1270" y="639" width="1" height="17"/>
<rect x="1278" y="639" width="1" height="10"/>
<rect x="1286" y="639" width="1" height="3"/>
<rect x="1294" y="636" width="1" height="4"/>
<rect x="1302" y="629" width="1" height="11"/>
<rect x="1310" y="624" width="1" height="16"/>
<rect x="1318" y="622" width="1" height="18"/>
<rect x="1326" y="621" width="1" height="19"/>
<rect x="1334" y="619" width="1" height="21"/>
<rect x="1342" y="617" width="1" height="23"/>
<rect x="1350" y="617" width="1" height="23"/>
<rect x="1358" y="618" width="1" height="22"/>
<rect x="1366" y="622" width="1" height="18"/>
<rect x="1374" y="627" width="1" height="13"/>
<rect x="1382" y="629" width="1" height="11"/>
<rect x="1390" y="629" width="1" height="11"/>
<rect x="1398" y="628" width="1" height="12"/>
<rect x="1406" y="624" width="1" height="16"/>
<rect x="1414" y="623" width="1" height="17"/>
<rect x="1422" y="619" width="1" height="21"/>
<rect x="1430" y="617" width="1" height="23"/>
</g>
<g clip-path="url(#cmacd)"><polyline points="0.0,626.6 5.4,624.4 11.5,622.4 17.2,619.4 23.0,617.3 29.4,614.4 35.2,611.9 41.6,609.4 47.3,608.3 53.4,605.8 59.5,604.2 65.3,602.6 71.4,601.1 77.5,599.3 83.2,598.2 89.0,598.3 94.7,597.6 101.0,597.6 107.6,598.2 113.3,598.5 126.5,600.2 134.5,601.3 142.5,602.9 150.5,604.5 158.5,606.4 166.5,608.3 174.5,610.6 182.5,613.3 190.5,616.2 198.5,619.3 206.5,622.3 214.5,625.5 222.5,628.6 230.5,631.5 238.5,633.7 246.5,635.1 254.5,636.1 262.5,636.7 270.5,637.0 278.5,637.5 286.5,637.7 294.5,638.1 302.5,638.6 310.5,639.3 318.5,640.5 326.5,641.6 334.5,642.6 342.5,643.2 350.5,643.5 358.5,643.3 366.5,643.0 374.5,642.4 382.5,641.4 390.5,640.1 398.5,638.8 406.5,637.7 414.5,636.8 422.5,636.0 430.5,635.4 438.5,634.9 446.5,634.5 454.5,634.3 462.5,634.8 470.5,635.6 478.5,636.6 486.5,637.5 494.5,638.6 502.5,639.7 510.5,640.9 518.5,642.2 526.5,643.6 534.5,644.5 542.5,645.3 550.5,645.7 558.5,645.9 566.5,645.7 574.5,645.5 582.5,645.0 590.5,644.3 598.5,643.6 606.5,643.2 614.5,642.8 622.5,642.4 630.5,641.9 638.5,641.7 646.5,641.3 654.5,641.2 662.5,641.2 670.5,642.1 678.5,643.6 686.5,645.4 694.5,647.8 702.5,650.3 710.5,652.5 718.5,656.1 726.5,660.6 734.5,665.8 742.5,670.8 750.5,675.4 758.5,680.2 766.5,684.6 774.5,688.8 782.5,693.6 790.5,697.7 798.5,701.2 806.5,704.6 814.5,708.2 822.5,712.4 830.5,718.4 838.5,724.5 846.5,730.7 854.5,736.2 862.5,740.6 870.5,743.3 878.5,745.0 886.5,745.3 894.5,743.5 902.5,738.5 910.5,733.4 918.5,727.4 926.5,721.5 934.5,715.2 942.5,709.3 950.5,703.5 958.5,696.9 966.5,690.0 974.5,682.8 982.5,674.9 990.5,667.7 998.5,660.6 1006.5,654.8 1014.5,649.2 1022.5,644.0 1030.5,640.0 1038.5,637.1 1046.5,635.0 1054.5,634.0 1062.5,633.6 1070.5,634.3 1078.5,635.3 1086.5,637.2 1094.5,640.0 1102.5,643.4 1110.5,646.0 1118.5,648.0 1126.5,648.8 1134.5,648.7 1142.5,647.6 1150.5,646.7 1158.5,646.5 1166.5,647.3 1174.5,648.7 1182.5,652.0 1190.5,656.4 1198.5,661.6 1206.5,667.5 1214.5,673.8 1222.5,679.1 1230.5,682.8 1238.5,684.3 1246.5,684.2 1254.5,682.5 1262.5,679.8 1270.5,676.3 1278.5,671.7 1286.5,666.3 1294.5,660.6 1302.5,654.4 1310.5,648.4 1318.5,642.7 1326.5,637.5 1334.5,632.8 1342.5,628.5 1350.5,625.1 1358.5,622.6 1366.5,621.0 1374.5,620.8 1382.5,621.3 1390.5,622.1 1398.5,622.9 1406.5,623.5 1414.5,624.1 1422.5,624.3 1430.5,624.2" fill="none" stroke="#ff0000" stroke-width="1" shape-rendering="crispEdges" stroke-dasharray="3 3"/></g>
<g shape-rendering="crispEdges" fill="#c0c0c0">
<line x1="-1" y1="803.5" x2="1626" y2="803.5" stroke="#b8b8b8" stroke-dasharray="3 3"/>
<line x1="-1" y1="850.5" x2="1626" y2="850.5" stroke="#b8b8b8" stroke-dasharray="3 3"/>
<line x1="-1" y1="906.5" x2="1626" y2="906.5" stroke="#b8b8b8" stroke-dasharray="3 3"/>
</g>
<g clip-path="url(#crsi)"><polyline points="-1.5,815.0 6.5,813.0 14.5,808.7 22.5,802.7 30.5,806.2 38.5,809.4 46.5,806.6 54.5,803.8 62.5,806.6 70.5,820.1 78.5,816.3 86.5,815.6 94.5,817.8 102.5,820.6 110.5,816.3 118.5,828.1 126.5,828.5 134.5,829.6 142.5,828.1 150.5,825.5 158.5,827.5 166.5,841.0 174.5,856.1 182.5,862.1 190.5,865.3 198.5,862.5 206.5,857.6 214.5,873.3 222.5,850.7 230.5,844.2 238.5,838.4 246.5,837.4 254.5,844.2 262.5,847.5 270.5,861.5 278.5,863.6 286.5,860.4 294.5,862.5 302.5,859.3 310.5,853.3 318.5,860.4 326.5,856.7 334.5,854.4 342.5,849.6 350.5,848.2 358.5,839.9 366.5,851.3 374.5,834.1 382.5,835.2 390.5,834.1 398.5,844.2 406.5,851.8 414.5,856.1 422.5,847.9 430.5,846.4 438.5,843.6 446.5,844.7 454.5,835.2 462.5,864.3 470.5,863.6 478.5,865.3 486.5,860.4 494.5,862.5 502.5,855.6 510.5,858.2 518.5,856.5 526.5,859.3 534.5,859.3 542.5,863.2 550.5,857.2 558.5,852.8 566.5,842.5 574.5,849.2 582.5,845.3 590.5,844.2 598.5,853.5 606.5,865.3 614.5,860.8 622.5,851.3 630.5,847.0 638.5,842.5 646.5,845.3 654.5,844.2 662.5,850.0 670.5,886.6 678.5,889.4 686.5,875.4 694.5,876.5 702.5,873.3 710.5,850.0 718.5,880.8 726.5,883.4 734.5,883.4 742.5,884.5 750.5,882.3 758.5,889.0 766.5,877.6 774.5,877.6 782.5,879.3 790.5,887.9 798.5,889.4 806.5,890.5 814.5,898.0 822.5,901.7 830.5,910.3 838.5,878.7 846.5,877.2 854.5,869.4 862.5,870.5 870.5,860.4 878.5,864.7 886.5,867.5 894.5,858.9 902.5,861.5 910.5,870.5 918.5,856.5 926.5,858.2 934.5,852.4 942.5,853.5 950.5,854.4 958.5,842.7 966.5,839.3 974.5,840.6 982.5,843.6 990.5,844.7 998.5,847.0 1006.5,852.2 1014.5,844.2 1022.5,845.3 1030.5,847.5 1038.5,843.6 1046.5,842.5 1054.5,855.0 1062.5,858.6 1070.5,865.1 1078.5,862.5 1086.5,863.9 1094.5,869.1 1102.5,868.4 1110.5,840.4 1118.5,842.3 1126.5,839.5 1134.5,842.3 1142.5,843.4 1150.5,861.4 1158.5,872.1 1166.5,878.4 1174.5,875.4 1182.5,875.4 1190.5,869.8 1198.5,869.8 1206.5,871.4 1214.5,869.8 1222.5,866.0 1230.5,857.4 1238.5,858.1 1246.5,852.8 1254.5,849.3 1262.5,846.9 1270.5,845.1 1278.5,836.4 1286.5,837.6 1294.5,832.5 1302.5,828.3 1310.5,832.9 1318.5,834.6 1326.5,839.2 1334.5,834.1 1342.5,835.3 1350.5,835.3 1358.5,842.3 1366.5,854.4 1374.5,857.4 1382.5,850.4 1390.5,844.1 1398.5,841.1 1406.5,830.1 1414.5,835.3 1422.5,831.3 1430.5,831.3" fill="none" stroke="#1e90ff" stroke-width="1" shape-rendering="crispEdges" /></g>
<g shape-rendering="crispEdges" fill="#000">
<rect x="1627" y="53" width="3" height="1"/>
<rect x="1627" y="86" width="3" height="1"/>
<rect x="1627" y="119" width="3" height="1"/>
<rect x="1627" y="152" width="3" height="1"/>
<rect x="1627" y="184" width="3" height="1"/>
<rect x="1627" y="217" width="3" height="1"/>
<rect x="1627" y="250" width="3" height="1"/>
<rect x="1627" y="283" width="3" height="1"/>
<rect x="1627" y="316" width="3" height="1"/>
<rect x="1627" y="349" width="3" height="1"/>
<rect x="1627" y="382" width="3" height="1"/>
<rect x="1627" y="415" width="3" height="1"/>
<rect x="1627" y="448" width="3" height="1"/>
<rect x="1627" y="481" width="3" height="1"/>
<rect x="1627" y="514" width="3" height="1"/>
<rect x="1627" y="547" width="3" height="1"/>
<rect x="1627" y="580" width="3" height="1"/>
</g>
<text x="1632" y="57" font-family="Liberation Sans, sans-serif" font-size="10" fill="#000" textLength="33" lengthAdjust="spacingAndGlyphs">27419.0</text>
<text x="1632" y="90" font-family="Liberation Sans, sans-serif" font-size="10" fill="#000" textLength="33" lengthAdjust="spacingAndGlyphs">27266.0</text>
<text x="1632" y="123" font-family="Liberation Sans, sans-serif" font-size="10" fill="#000" textLength="33" lengthAdjust="spacingAndGlyphs">27113.0</text>
<text x="1632" y="156" font-family="Liberation Sans, sans-serif" font-size="10" fill="#000" textLength="33" lengthAdjust="spacingAndGlyphs">26960.0</text>
<text x="1632" y="188" font-family="Liberation Sans, sans-serif" font-size="10" fill="#000" textLength="33" lengthAdjust="spacingAndGlyphs">26811.5</text>
<text x="1632" y="221" font-family="Liberation Sans, sans-serif" font-size="10" fill="#000" textLength="33" lengthAdjust="spacingAndGlyphs">26658.5</text>
<text x="1632" y="254" font-family="Liberation Sans, sans-serif" font-size="10" fill="#000" textLength="33" lengthAdjust="spacingAndGlyphs">26505.5</text>
<text x="1632" y="287" font-family="Liberation Sans, sans-serif" font-size="10" fill="#000" textLength="33" lengthAdjust="spacingAndGlyphs">26352.5</text>
<text x="1632" y="320" font-family="Liberation Sans, sans-serif" font-size="10" fill="#000" textLength="33" lengthAdjust="spacingAndGlyphs">26199.5</text>
<text x="1632" y="353" font-family="Liberation Sans, sans-serif" font-size="10" fill="#000" textLength="33" lengthAdjust="spacingAndGlyphs">26046.5</text>
<text x="1632" y="386" font-family="Liberation Sans, sans-serif" font-size="10" fill="#000" textLength="33" lengthAdjust="spacingAndGlyphs">25898.0</text>
<text x="1632" y="419" font-family="Liberation Sans, sans-serif" font-size="10" fill="#000" textLength="33" lengthAdjust="spacingAndGlyphs">25745.0</text>
<text x="1632" y="452" font-family="Liberation Sans, sans-serif" font-size="10" fill="#000" textLength="33" lengthAdjust="spacingAndGlyphs">25592.0</text>
<text x="1632" y="485" font-family="Liberation Sans, sans-serif" font-size="10" fill="#000" textLength="33" lengthAdjust="spacingAndGlyphs">25439.0</text>
<text x="1632" y="518" font-family="Liberation Sans, sans-serif" font-size="10" fill="#000" textLength="33" lengthAdjust="spacingAndGlyphs">25286.0</text>
<text x="1632" y="551" font-family="Liberation Sans, sans-serif" font-size="10" fill="#000" textLength="33" lengthAdjust="spacingAndGlyphs">25133.0</text>
<text x="1632" y="584" font-family="Liberation Sans, sans-serif" font-size="10" fill="#000" textLength="33" lengthAdjust="spacingAndGlyphs">24984.5</text>
<rect x="1628" y="227" width="41" height="11" fill="#ff0000" shape-rendering="crispEdges"/>
<text x="1632" y="236" font-family="Liberation Sans, sans-serif" font-size="10" fill="#fff" textLength="33" lengthAdjust="spacingAndGlyphs">26582.8</text>
<rect x="1628" y="261" width="41" height="11" fill="#ff0000" shape-rendering="crispEdges"/>
<text x="1632" y="270" font-family="Liberation Sans, sans-serif" font-size="10" fill="#fff" textLength="33" lengthAdjust="spacingAndGlyphs">26426.2</text>
<rect x="1628" y="299" width="41" height="11" fill="#000000" shape-rendering="crispEdges"/>
<text x="1632" y="308" font-family="Liberation Sans, sans-serif" font-size="10" fill="#fff" textLength="33" lengthAdjust="spacingAndGlyphs">26254.0</text>
<rect x="1628" y="329" width="41" height="11" fill="#32cd32" shape-rendering="crispEdges"/>
<text x="1632" y="338" font-family="Liberation Sans, sans-serif" font-size="10" fill="#fff" textLength="33" lengthAdjust="spacingAndGlyphs">26113.1</text>
<rect x="1628" y="359" width="41" height="11" fill="#0000ff" shape-rendering="crispEdges"/>
<text x="1632" y="368" font-family="Liberation Sans, sans-serif" font-size="10" fill="#fff" textLength="33" lengthAdjust="spacingAndGlyphs">25974.9</text>
<rect x="1628" y="385" width="41" height="11" fill="#0000ff" shape-rendering="crispEdges"/>
<text x="1632" y="394" font-family="Liberation Sans, sans-serif" font-size="10" fill="#fff" textLength="33" lengthAdjust="spacingAndGlyphs">25855.2</text>
<g shape-rendering="crispEdges" fill="#000"><rect x="1627" y="587" width="1" height="1"/><rect x="1627" y="639" width="1" height="1"/><rect x="1627" y="767" width="1" height="1"/><rect x="1627" y="772" width="1" height="1"/><rect x="1627" y="929" width="1" height="1"/></g>
<text x="1630" y="596" font-family="Liberation Sans, sans-serif" font-size="9.5" fill="#000">163.29</text>
<text x="1630" y="643" font-family="Liberation Sans, sans-serif" font-size="9.5" fill="#000">0.00</text>
<text x="1630" y="765" font-family="Liberation Sans, sans-serif" font-size="9.5" fill="#000">-396.51</text>
<text x="1630" y="781" font-family="Liberation Sans, sans-serif" font-size="9.5" fill="#000">100</text>
<text x="1629" y="807" font-family="Liberation Sans, sans-serif" font-size="9.5" fill="#000">80</text>
<text x="1629" y="854" font-family="Liberation Sans, sans-serif" font-size="9.5" fill="#000">50</text>
<text x="1629" y="910" font-family="Liberation Sans, sans-serif" font-size="9.5" fill="#000">15</text>
<text x="1630" y="927" font-family="Liberation Sans, sans-serif" font-size="9.5" fill="#000">0</text>
<g shape-rendering="crispEdges" fill="#000">
<rect x="62" y="931" width="1" height="3"/>
<rect x="126" y="931" width="1" height="3"/>
<rect x="190" y="931" width="1" height="3"/>
<rect x="254" y="931" width="1" height="3"/>
<rect x="318" y="931" width="1" height="3"/>
<rect x="382" y="931" width="1" height="3"/>
<rect x="446" y="931" width="1" height="3"/>
<rect x="510" y="931" width="1" height="3"/>
<rect x="574" y="931" width="1" height="3"/>
<rect x="638" y="931" width="1" height="3"/>
<rect x="702" y="931" width="1" height="3"/>
<rect x="766" y="931" width="1" height="3"/>
<rect x="830" y="931" width="1" height="3"/>
<rect x="894" y="931" width="1" height="3"/>
<rect x="958" y="931" width="1" height="3"/>
<rect x="1022" y="931" width="1" height="3"/>
<rect x="1086" y="931" width="1" height="3"/>
<rect x="1150" y="931" width="1" height="3"/>
<rect x="1214" y="931" width="1" height="3"/>
<rect x="1278" y="931" width="1" height="3"/>
<rect x="1342" y="931" width="1" height="3"/>
<rect x="1406" y="931" width="1" height="3"/>
</g>
<text x="-2.5" y="943" font-family="Liberation Sans, sans-serif" font-size="9.2" fill="#000">12 Jul 2019</text>
<text x="61.5" y="943" font-family="Liberation Sans, sans-serif" font-size="9.2" fill="#000">15 Jul 08:00</text>
<text x="125.5" y="943" font-family="Liberation Sans, sans-serif" font-size="9.2" fill="#000">16 Jul 16:00</text>
<text x="189.5" y="943" font-family="Liberation Sans, sans-serif" font-size="9.2" fill="#000">18 Jul 00:00</text>
<text x="253.5" y="943" font-family="Liberation Sans, sans-serif" font-size="9.2" fill="#000">19 Jul 08:00</text>
<text x="317.5" y="943" font-family="Liberation Sans, sans-serif" font-size="9.2" fill="#000">22 Jul 12:00</text>
<text x="381.5" y="943" font-family="Liberation Sans, sans-serif" font-size="9.2" fill="#000">23 Jul 20:00</text>
<text x="445.5" y="943" font-family="Liberation Sans, sans-serif" font-size="9.2" fill="#000">25 Jul 04:00</text>
<text x="509.5" y="943" font-family="Liberation Sans, sans-serif" font-size="9.2" fill="#000">26 Jul 12:00</text>
<text x="573.5" y="943" font-family="Liberation Sans, sans-serif" font-size="9.2" fill="#000">29 Jul 16:00</text>
<text x="637.5" y="943" font-family="Liberation Sans, sans-serif" font-size="9.2" fill="#000">31 Jul 00:00</text>
<text x="701.5" y="943" font-family="Liberation Sans, sans-serif" font-size="9.2" fill="#000">1 Aug 08:00</text>
<text x="765.5" y="943" font-family="Liberation Sans, sans-serif" font-size="9.2" fill="#000">2 Aug 16:00</text>
<text x="829.5" y="943" font-family="Liberation Sans, sans-serif" font-size="9.2" fill="#000">5 Aug 20:00</text>
<text x="893.5" y="943" font-family="Liberation Sans, sans-serif" font-size="9.2" fill="#000">7 Aug 04:00</text>
<text x="957.5" y="943" font-family="Liberation Sans, sans-serif" font-size="9.2" fill="#000">8 Aug 12:00</text>
<text x="1021.5" y="943" font-family="Liberation Sans, sans-serif" font-size="9.2" fill="#000">9 Aug 20:00</text>
<text x="1085.5" y="943" font-family="Liberation Sans, sans-serif" font-size="9.2" fill="#000">13 Aug 00:00</text>
<text x="1149.5" y="943" font-family="Liberation Sans, sans-serif" font-size="9.2" fill="#000">14 Aug 08:00</text>
<text x="1213.5" y="943" font-family="Liberation Sans, sans-serif" font-size="9.2" fill="#000">15 Aug 16:00</text>
<text x="1277.5" y="943" font-family="Liberation Sans, sans-serif" font-size="9.2" fill="#000">18 Aug 23:00</text>
<text x="1341.5" y="943" font-family="Liberation Sans, sans-serif" font-size="9.2" fill="#000">20 Aug 04:00</text>
<text x="1405.5" y="943" font-family="Liberation Sans, sans-serif" font-size="9.2" fill="#000">21 Aug 12:00</text>
<text x="2" y="597" font-family="Liberation Sans, sans-serif" font-size="9.5" fill="#000">MACD(12,26,9) 73.14 50.29</text>
<text x="2" y="782" font-family="Liberation Sans, sans-serif" font-size="9.5" fill="#000">RSI(14) 62.0471</text>
<polygon points="2,42 9,42 5.5,37.5" fill="#000"/>
<text x="13" y="42" font-family="Liberation Sans, sans-serif" font-size="9.5" fill="#000" textLength="185" lengthAdjust="spacingAndGlyphs">DJ30-,H4 &#160;26254.0 26254.0 26254.0 26254.0</text>
<g transform="translate(1405,438.9) scale(0.98,0.93)"><text x="0" y="0" font-family="Liberation Serif, Noto Serif CJK SC, serif" font-weight="500" font-size="33" fill="#000" transform="translate(-1,1)">多空转折点</text><text x="0" y="0" font-family="Liberation Serif, Noto Serif CJK SC, serif" font-weight="500" font-size="33" fill="#00ff00">多空转折点</text></g>
<rect x="1672" y="28" width="1" height="924" fill="#e3e3e3" shape-rendering="crispEdges"/>
<rect x="0" y="951" width="1673" height="1" fill="#e3e3e3" shape-rendering="crispEdges"/>
</svg>
<div id="tb">
<div class="b0"></div><div class="b1"></div><div class="b2"></div><div class="b3"></div>
<!-- new order -->
<svg style="left:0;top:4px" width="15" height="22" viewBox="0 0 15 22"><path d="M-1 2.5h7.5l2.5 2.5v9H-1z" fill="#fafafa" stroke="#777"/><path d="M0 5.5h2.5M0 10h3.5" stroke="#888" stroke-width="1.2"/><path d="M5.2 8.5h3.6v4.2h4.2v3.6H8.8v4.2H5.2v-4.2H1v-3.6h4.2z" fill="#3ee83e" stroke="#11931a" stroke-width="1"/></svg>
<div class="t" style="left:16px;top:6px">新订单</div>
<!-- gold book -->
<svg style="left:63px;top:6px" width="18" height="17" viewBox="0 0 18 17"><defs><linearGradient id="gbk" x1="0" y1="0" x2="1" y2="1"><stop offset="0" stop-color="#f8e070"/><stop offset="1" stop-color="#c89018"/></linearGradient></defs><path d="M1.5 9.5L7 1.5l9.5 7.5-5.5 7z" fill="url(#gbk)" stroke="#9a6008"/><path d="M3 11l7.5 5" stroke="#d8b060"/></svg>
<!-- blue doc cloud -->
<svg style="left:92px;top:5px" width="17" height="18" viewBox="0 0 17 18"><path d="M2.5 1.5h8l2 2v11h-10z" fill="#2a92f0" stroke="#1868c0"/><path d="M4.5 2v12" stroke="#8ccaff"/><rect x="7" y="5" width="4" height="2" fill="#d0ecff"/><path d="M1.5 16.5c-1.5 0-1.5-3.5 1-3.5 0-2.5 4-3 5-1 1.5-1.5 5-1 5 1.5 2.5 0 2.5 3 0.5 3z" fill="#f2f6fc" stroke="#6a84b0"/></svg>
<!-- signal -->
<svg style="left:119px;top:5px" width="18" height="18" viewBox="0 0 18 18"><circle cx="9" cy="8.8" r="7.6" fill="none" stroke="#8ab4e8" stroke-width="1.2"/><circle cx="9" cy="8.8" r="4.8" fill="none" stroke="#4a84d8" stroke-width="1.2"/><path d="M9 16.4a7.6 7.6 0 0 0 7.6-7.6" fill="none" stroke="#7cc08c" stroke-width="1.2"/><circle cx="9" cy="8.8" r="1.8" fill="#2050c0"/><path d="M9.5 9v7.5h3" fill="none" stroke="#20a020" stroke-width="1.4"/></svg>
<!-- auto trade -->
<svg style="left:146px;top:5px" width="19" height="18" viewBox="0 0 19 18"><path d="M2.5 8l6 10 8-8z" fill="#f4d848" stroke="#b09010"/><ellipse cx="9" cy="5.5" rx="7.8" ry="3" fill="#64aee8" stroke="#2a78c0"/><ellipse cx="9" cy="4.2" rx="3.8" ry="3" fill="#7cc0f0" stroke="#2a78c0"/><circle cx="14" cy="13" r="4.3" fill="#d81818"/><rect x="12.2" y="11.2" width="3.6" height="3.6" fill="#fff"/></svg>
<div class="t" style="left:168px;top:6px">自动交易</div>
<div class="sep" style="left:223px;background:#8a8a8a"></div>
<div class="grip" style="left:227px"></div>
<!-- bar chart -->
<svg style="left:238px;top:6px" width="16" height="16" viewBox="0 0 16 16"><path d="M3.5 2v13M1 13.5h13" stroke="#404040" stroke-width="1"/><path d="M1.5 4L3.5 1L5.5 4ZM12 11.5L15 13.5L12 15.5Z" fill="#404040"/><path d="M10 2v9M10 2.5h3M7 10.5h3" stroke="#109010" stroke-width="1.5"/></svg>
<div class="prs" style="left:261px"></div>
<svg style="left:266px;top:6px" width="16" height="16" viewBox="0 0 16 16"><path d="M3.5 2v13M1 13.5h13" stroke="#404040" stroke-width="1"/><path d="M1.5 4L3.5 1L5.5 4ZM12 11.5L15 13.5L12 15.5Z" fill="#404040"/><path d="M10.5 -1v12" stroke="#107010"/><rect x="8.5" y="1.5" width="4" height="7" fill="#20d040" stroke="#108010"/></svg>
<svg style="left:294px;top:6px" width="16" height="16" viewBox="0 0 16 16"><path d="M3.5 2v13M1 13.5h13" stroke="#404040" stroke-width="1"/><path d="M1.5 4L3.5 1L5.5 4ZM12 11.5L15 13.5L12 15.5Z" fill="#404040"/><path d="M2 10c3-4 5-6 7-5s3 3 5 4" fill="none" stroke="#109010" stroke-width="1.2"/></svg>
<div class="sep" style="left:318px;top:3px;height:21px"></div>
<!-- zoom in/out -->
<svg style="left:326px;top:5px" width="18" height="18" viewBox="0 0 18 18"><path d="M10 10l6 6" stroke="#c0a020" stroke-width="3"/><circle cx="7" cy="7" r="5.8" fill="#d8ecff" stroke="#3a7ad0" stroke-width="1.5"/><path d="M4 7h6M7 4v6" stroke="#2a5ab0" stroke-width="1.8"/></svg>
<svg style="left:354px;top:5px" width="18" height="18" viewBox="0 0 18 18"><path d="M10 10l6 6" stroke="#c0a020" stroke-width="3"/><circle cx="7" cy="7" r="5.8" fill="#d8ecff" stroke="#3a7ad0" stroke-width="1.5"/><path d="M4 7h6" stroke="#2a5ab0" stroke-width="1.8"/></svg>
<!-- tile -->
<svg style="left:383px;top:6px" width="17" height="16" viewBox="0 0 17 16"><rect x="0" y="0" width="8" height="7.5" fill="#30a030"/><rect x="8.5" y="0" width="8" height="7.5" fill="#2050c0"/><rect x="0" y="8" width="8" height="8" fill="#2050c0"/><rect x="8.5" y="8" width="8" height="8" fill="#30a030"/><path d="M2 4h4M10 4h4M2 12h4M10 12h4" stroke="#fff" stroke-width="2"/></svg>
<div class="sep" style="left:408px;top:3px;height:21px"></div>
<div class="prs" style="left:413px"></div>
<svg style="left:419px;top:6px" width="16" height="16" viewBox="0 0 16 16"><path d="M3.5 2v13M1 13.5h13" stroke="#404040" stroke-width="1"/><path d="M1.5 4L3.5 1L5.5 4ZM12 11.5L15 13.5L12 15.5Z" fill="#404040"/><path d="M8 3v7l4.5-3.5z" fill="#20c030" stroke="#108010"/></svg>
<div class="prs" style="left:441px"></div>
<svg style="left:447px;top:6px" width="16" height="16" viewBox="0 0 16 16"><path d="M3.5 2v13M1 13.5h13" stroke="#404040" stroke-width="1"/><path d="M1.5 4L3.5 1L5.5 4ZM12 11.5L15 13.5L12 15.5Z" fill="#404040"/><path d="M9.5 2v9" stroke="#2070c0" stroke-width="1.2"/><path d="M10 6.5h5M10.5 6.5l2.5-2.5M10.5 6.5l2.5 2.5" stroke="#d04010" stroke-width="1.3"/></svg>
<div class="sep" style="left:470px;top:3px;height:21px"></div>
<!-- indicators -->
<svg style="left:480px;top:5px" width="18" height="19" viewBox="0 0 18 19"><path d="M1 1h7l3 3v10H1z" fill="#fff" stroke="#8a8a8a"/><path d="M4 5h2v8" stroke="#777" fill="none"/><path d="M8 8h3v3h3v3h-3v3H8v-3H5v-3h3z" fill="#20c020" stroke="#0a8a0a" stroke-width="0.8"/></svg>
<div class="dd" style="left:500px"></div>
<svg style="left:518px;top:5px" width="17" height="18" viewBox="0 0 17 18"><circle cx="8.5" cy="9" r="7.8" fill="#1d64c8"/><circle cx="8.5" cy="9" r="5.6" fill="#dfeafc"/><circle cx="7.8" cy="8.2" r="4" fill="#f6f9ff"/><path d="M8.5 5v4h3" stroke="#333" fill="none"/></svg>
<div class="dd" style="left:539px"></div>
<svg style="left:557px;top:7px" width="17" height="15" viewBox="0 0 17 15"><rect x="0.5" y="0.5" width="16" height="14" fill="#fff" stroke="#3a70c0"/><rect x="0.5" y="0.5" width="16" height="2.5" fill="#4a8ae0"/><path d="M2 8l3-2 3 1 3-2 4 1" stroke="#b03020" fill="none"/><path d="M2 12l3-2 3 1 3-2 4 1" stroke="#30a030" fill="none"/></svg>
<div class="dd" style="left:579px"></div>
<div class="sep" style="left:591px;background:#6a6a6a"></div>
<div class="grip" style="left:595px"></div>
<div class="prs" style="left:601px"></div>
<svg style="left:608px;top:6px" width="10" height="16" viewBox="0 0 10 16"><path d="M1 1v12l3-3 3 5 2-1-3-5h4z" fill="#404040"/></svg>
<svg style="left:633px;top:6px" width="17" height="17" viewBox="0 0 17 17"><path d="M8.5 1v15M1 8.5h15" stroke="#404040" stroke-width="1.2"/></svg>
<div class="sep" style="left:658px;top:3px;height:21px"></div>
<svg style="left:673px;top:7px" width="5" height="15"><path d="M2.5 1v13" stroke="#404040" stroke-width="1.2"/></svg>
<svg style="left:697px;top:12px" width="15" height="5"><path d="M1 2.5h12" stroke="#404040" stroke-width="1.2"/></svg>
<svg style="left:725px;top:8px" width="15" height="15"><path d="M1 14L13 2" stroke="#404040" stroke-width="1.2"/></svg>
<svg style="left:751px;top:5px" width="18" height="18" viewBox="0 0 18 18"><path d="M1 12L12 1M3 15L14 4M4 6l3 3M7 4l3 3M2 9l3 3" stroke="#404040" stroke-width="1.1"/><text x="12" y="18" font-size="7" font-weight="bold" fill="#404040" font-family="Liberation Sans">E</text></svg>
<svg style="left:780px;top:6px" width="17" height="17" viewBox="0 0 17 17"><path d="M1 1.5h13M1 4.5h13M1 8h13M1 11h13M1 14h7" stroke="#404040" stroke-dasharray="1 1"/><text x="10" y="17" font-size="7" font-weight="bold" fill="#404040" font-family="Liberation Sans">F</text></svg>
<div class="tf" style="left:811px;top:8px;font-size:13px;line-height:13px;font-weight:bold;color:#505050">A</div>
<svg style="left:836px;top:7px" width="15" height="15" viewBox="0 0 15 15"><rect x="1" y="1" width="13" height="13" fill="none" stroke="#505050" stroke-dasharray="1 1"/><path d="M4 4h7M7.5 4v8" stroke="#404040" stroke-width="2"/></svg>
<svg style="left:864px;top:7px" width="16" height="15" viewBox="0 0 16 15"><path d="M3 1l3 3-3 3-3-3z" fill="#404040"/><path d="M12 8l3 3-3 3-3-3z" fill="#404040"/><path d="M4 8l3 3 4-6" stroke="#404040" stroke-width="1.3" fill="none"/></svg>
<div class="dd" style="left:885px"></div>
<div class="sep" style="left:897px;background:#6a6a6a"></div>
<div class="grip" style="left:901px"></div>
<div class="tf" style="left:912px">M1</div>
<div class="tf" style="left:940px">M5</div>
<div class="tf" style="left:966px">M15</div>
<div class="tf" style="left:994px">M30</div>
<div class="tf" style="left:1025px">H1</div>
<div class="prs" style="left:1047px"></div>
<div class="tf" style="left:1052px">H4</div>
<div class="tf" style="left:1081px">D1</div>
<div class="tf" style="left:1108px">W1</div>
<div class="tf" style="left:1135px">MN</div>
<div class="sep" style="left:1158px;top:3px;height:21px"></div>
<svg style="left:1619px;top:6px" width="15" height="15" viewBox="0 0 15 15"><circle cx="9" cy="6" r="4" fill="none" stroke="#2a5ad0" stroke-width="2"/><path d="M6 9l-5 5" stroke="#2a5ad0" stroke-width="2.5"/></svg>
<svg style="left:1646px;top:5px" width="23" height="17" viewBox="0 0 23 17"><ellipse cx="15" cy="6" rx="6.5" ry="4.5" fill="#f4f4f4" stroke="#707070"/><path d="M17 10l1 3-3-3" fill="#f4f4f4" stroke="#707070"/><ellipse cx="8" cy="10" rx="6" ry="4" fill="#fafafa" stroke="#707070"/><path d="M5 13l-1 3 3-2.5" fill="#fafafa" stroke="#707070"/></svg>
</div>

<div id="tp">
<svg style="position:absolute;left:0;top:0" width="222" height="116" viewBox="0 0 222 116">
<defs><linearGradient id="rg" x1="0" y1="50" x2="0" y2="114" gradientUnits="userSpaceOnUse"><stop offset="0" stop-color="#f95a5a"/><stop offset="0.33" stop-color="#e43c3c"/><stop offset="0.6" stop-color="#cd1f1f"/><stop offset="1" stop-color="#ae0303"/></linearGradient>
<linearGradient id="gb" x1="0" y1="0" x2="0" y2="1"><stop offset="0" stop-color="#f4f4f4"/><stop offset="1" stop-color="#dcdcdc"/></linearGradient></defs>
<g shape-rendering="crispEdges">
<rect x="0" y="48" width="222" height="68" fill="#fff"/>
<path d="M1 50H53V74H110V114H1Z" fill="#b40000"/>
<path d="M2 51H52V75H109V113H2Z" fill="url(#rg)"/>
<path d="M168 50H220V114H112V74H168Z" fill="#b40000"/>
<path d="M169 51H219V113H113V75H169Z" fill="url(#rg)"/>
<rect x="5" y="72" width="44" height="1" fill="#8a0000"/><rect x="5" y="73" width="44" height="1" fill="#f06464"/>
<rect x="172" y="72" width="44" height="1" fill="#8a0000"/><rect x="172" y="73" width="44" height="1" fill="#f06464"/>
<rect x="55" y="50" width="111" height="22" fill="#a8a8a8"/>
<rect x="56" y="51" width="20" height="20" fill="url(#gb)"/>
<rect x="77" y="51" width="67" height="20" fill="#fff"/>
<rect x="145" y="51" width="20" height="20" fill="url(#gb)"/>
</g>
<path d="M62.5 60h7l-3.5 4z" fill="#000"/>
<path d="M151.5 64h7l-3.5-4z" fill="#000"/>
<text x="140.5" y="65.3" text-anchor="end" font-family="Liberation Sans, sans-serif" font-size="12.5" fill="#000">1.00</text>
<text x="13" y="65.8" font-family="Liberation Sans, sans-serif" font-size="12.5" fill="#fff" textLength="25.6" lengthAdjust="spacingAndGlyphs">SELL</text>
<text x="181.6" y="65.8" font-family="Liberation Sans, sans-serif" font-size="12.5" fill="#fff" textLength="23.4" lengthAdjust="spacingAndGlyphs">BUY</text>
<text x="17" y="104.6" font-family="Liberation Sans, sans-serif" font-weight="bold" font-size="11.3" fill="#fff" textLength="35" lengthAdjust="spacingAndGlyphs">26252</text>
<text x="54" y="105" font-family="Liberation Sans, sans-serif" font-size="33" fill="#fff" textLength="25" lengthAdjust="spacingAndGlyphs">.5</text>
<text x="127.4" y="104.6" font-family="Liberation Sans, sans-serif" font-weight="bold" font-size="11.3" fill="#fff" textLength="34" lengthAdjust="spacingAndGlyphs">26260</text>
<text x="165" y="105" font-family="Liberation Sans, sans-serif" font-size="33" fill="#fff" textLength="25" lengthAdjust="spacingAndGlyphs">.5</text>
</svg>
</div>

</body></html>
